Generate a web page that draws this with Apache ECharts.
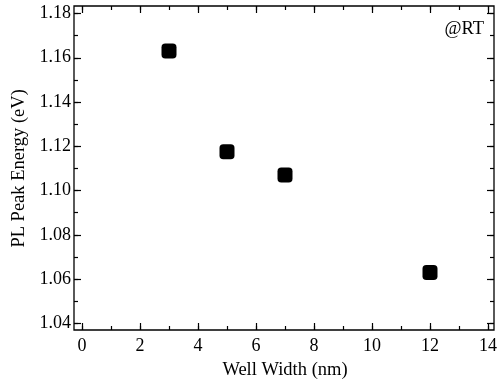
<!DOCTYPE html>
<html>
<head>
<meta charset="utf-8">
<script src="https://cdn.jsdelivr.net/npm/echarts@6/dist/echarts.min.js"></script>
<style>
html,body{margin:0;padding:0;background:#fff;}
#chart{width:500px;height:385px;}
</style>
</head>
<body>
<div id="chart"></div>
<script>
const wellWidth = [3, 5, 7, 12];
const peakEnergy = [1.163, 1.1175, 1.107, 1.063];
const X_MIN = 0, X_MAX = 14, X_STEP = 2, X_MINOR = 1;
const Y_MIN = 1.04, Y_MAX = 1.18, Y_STEP = 0.02, Y_MINOR = 0.01;

const F = "'Liberation Serif','Times New Roman',serif";
const K = '#000';

// grid 0 = frame box, grid 1 = data area (ticks pushed out to the frame with offset)
const OFF = {bottom: 6.7, left: 8, top: 7.5, right: 6};

function xAx(pos, step, len, labels) {
  return {
    type: 'value', gridIndex: 1, position: pos, offset: OFF[pos],
    min: X_MIN, max: X_MAX, interval: step,
    axisLine: {show: false, onZero: false},
    axisTick: {show: true, inside: true, length: len, lineStyle: {color: K, width: 1.2}},
    axisLabel: {show: labels, fontFamily: F, fontSize: 18, color: K, margin: 7},
    splitLine: {show: false}
  };
}
function yAx(pos, step, len, labels) {
  return {
    type: 'value', gridIndex: 1, position: pos, offset: OFF[pos],
    min: Y_MIN, max: Y_MAX, interval: step,
    axisLine: {show: false, onZero: false},
    axisTick: {show: true, inside: true, length: len, lineStyle: {color: K, width: 1.2}},
    axisLabel: {show: labels, fontFamily: F, fontSize: 18, color: K, margin: 3,
      formatter: v => v.toFixed(2)},
    splitLine: {show: false}
  };
}

const xBottom = Object.assign(xAx('bottom', X_STEP, 7, true), {
  name: 'Well Width (nm)', nameLocation: 'middle', nameGap: 31,
  nameTextStyle: {fontFamily: F, fontSize: 18.5, color: K}
});
const yLeft = Object.assign(yAx('left', Y_STEP, 7, true), {
  name: 'PL Peak Energy (eV)', nameLocation: 'middle', nameGap: 38,
  nameTextStyle: {fontFamily: F, fontSize: 18.5, color: K}
});

const chart = echarts.init(document.getElementById('chart'));
chart.setOption({
  animation: false,
  backgroundColor: '#fff',
  grid: [
    {left: 74, right: 6, top: 6, bottom: 55, show: true, borderColor: K, borderWidth: 1.3, backgroundColor: 'transparent'},
    {left: 82, right: 12, top: 13.5, bottom: 61.7}
  ],
  xAxis: [
    {type: 'value', gridIndex: 0, show: false},
    xBottom, xAx('bottom', X_MINOR, 4, false), xAx('top', X_STEP, 7, false), xAx('top', X_MINOR, 4, false)
  ],
  yAxis: [
    {type: 'value', gridIndex: 0, show: false},
    yLeft, yAx('left', Y_MINOR, 4, false), yAx('right', Y_STEP, 7, false), yAx('right', Y_MINOR, 4, false)
  ],
  graphic: [{
    type: 'text', right: 16, top: 20,
    style: {text: '@RT', font: "18.5px 'Liberation Serif'", fill: K}
  }],
  series: [{
    type: 'scatter', xAxisIndex: 1, yAxisIndex: 1,
    data: wellWidth.map((x, i) => [x, peakEnergy[i]]),
    symbol: 'roundRect', symbolSize: 15,
    itemStyle: {color: K, opacity: 1}
  }]
});
</script>
</body>
</html>
